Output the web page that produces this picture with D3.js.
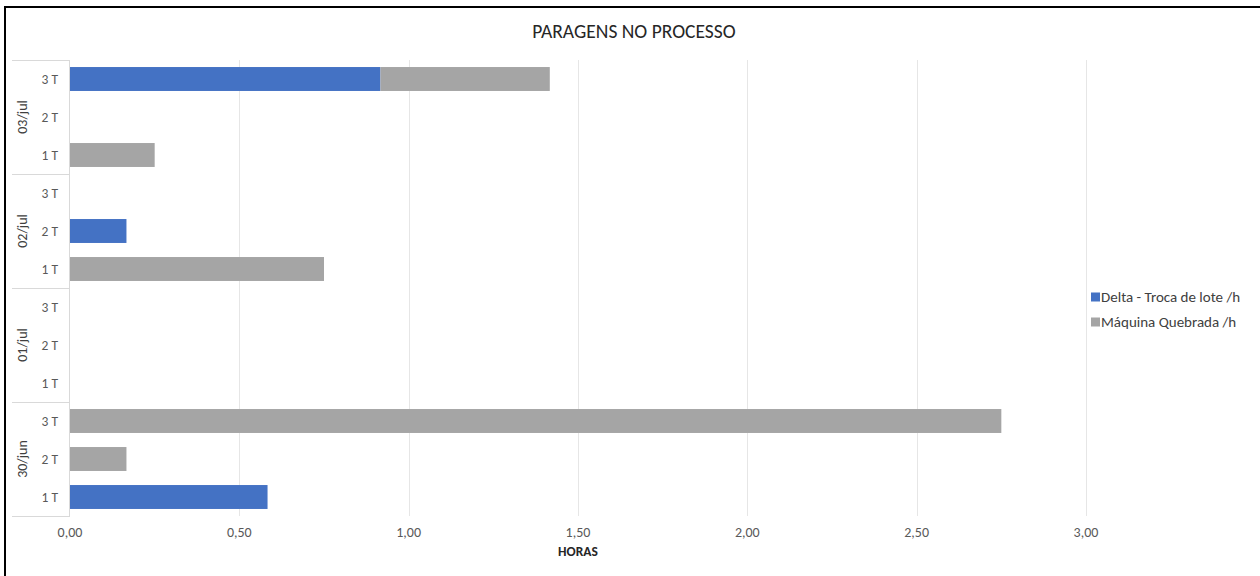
<!DOCTYPE html>
<html><head><meta charset="utf-8">
<script src="https://cdn.jsdelivr.net/npm/d3@7"></script>
<style>body{margin:0;background:#fff}svg{display:block}text{font-family:Calibri,Carlito,"Open Sans","Liberation Sans",sans-serif}</style>
</head><body>
<script>
const dates = ["03/jul","02/jul","01/jul","30/jun"];
const shifts = ["3 T","2 T","1 T"];
const seriesNames = ["Delta - Troca de lote /h","Máquina Quebrada /h"];
// values per row, top to bottom (date, shift)
const deltaValues  = [0.9167,0,0, 0,0.1667,0, 0,0,0, 0,0,0.5833];
const quebradaValues = [0.5,0,0.25, 0,0,0.75, 0,0,0, 2.75,0.1667,0];
const xTicks = [0,0.5,1,1.5,2,2.5,3];
const colors = ["#4472C4","#A5A5A5"];

(function(){
const W=1260,H=576;
const svg=d3.select("body").append("svg").attr("width",W).attr("height",H);
svg.append("rect").attr("width",W).attr("height",H).attr("fill","#fff");
// border (left/top visible)
svg.append("line").attr("x1",5).attr("x2",5).attr("y1",7).attr("y2",H).attr("stroke","#000").attr("stroke-width",2);
svg.append("line").attr("x1",4).attr("x2",W).attr("y1",7).attr("y2",7).attr("stroke","#000").attr("stroke-width",2);

const pL=70,pR=1086,pT=60,pB=516;
const rows=[];
dates.forEach(d=>shifts.forEach(s=>rows.push(d+"|"+s)));
const data=rows.map((r,i)=>({key:r,date:r.split("|")[0],shift:r.split("|")[1],v:[deltaValues[i],quebradaValues[i]]}));

const x=d3.scaleLinear().domain([0,3]).range([pL,pR]);
const y=d3.scaleBand().domain(rows).range([pT,pB]).paddingInner(0.37).paddingOuter(0.185);

// gridlines
svg.append("g").selectAll("line").data(xTicks.slice(1)).join("line")
 .attr("x1",d=>Math.round(x(d))+0.5).attr("x2",d=>Math.round(x(d))+0.5)
 .attr("y1",pT).attr("y2",pB).attr("stroke","#e6e6e6").attr("stroke-width",1);

// bars
const stack=d3.stack().keys([0,1]).value((d,k)=>d.v[k])(data);
stack.forEach((layer,k)=>{
  svg.append("g").selectAll("rect").data(layer).join("rect")
   .attr("x",d=>x(d[0])).attr("width",d=>x(d[1])-x(d[0]))
   .attr("y",d=>y(d.data.key)).attr("height",y.bandwidth())
   .attr("fill",colors[k]);
});

// y axis line and group separators
const ax="#d9d9d9";
svg.append("line").attr("x1",pL-0.5).attr("x2",pL-0.5).attr("y1",pT).attr("y2",pB).attr("stroke",ax);
for(let g=0;g<=dates.length;g++){
  const yy=Math.round(pT+g*3*(pB-pT)/12)+0.5;
  svg.append("line").attr("x1",12).attr("x2",pL).attr("y1",yy).attr("y2",yy).attr("stroke",ax);
}
// shift labels
svg.append("g").selectAll("text").data(data).join("text")
 .attr("x",58).attr("y",d=>y(d.key)+y.bandwidth()/2).attr("dy","0.35em")
 .attr("text-anchor","end").attr("font-size",13.5).attr("fill","#595959").text(d=>d.shift);
// date labels rotated
svg.append("g").selectAll("text").data(dates).join("text")
 .attr("transform",(d,i)=>{const cy=pT+(i*3+1.5)*(pB-pT)/12;return `translate(22,${cy}) rotate(-90)`;})
 .attr("dy","0.35em").attr("text-anchor","middle").attr("font-size",14).attr("fill","#404040").text(d=>d);

// x tick labels
const fmt=d=>d3.format(".2f")(d).replace(".",",");
svg.append("g").selectAll("text").data(xTicks).join("text")
 .attr("x",d=>x(d)).attr("y",537).attr("text-anchor","middle").attr("font-size",14).attr("fill","#595959").text(fmt);
svg.append("text").attr("x",x(1.5)).attr("y",556).attr("text-anchor","middle").attr("font-size",13.5).attr("font-weight","bold").attr("fill","#262626").text("HORAS");

// title
svg.append("text").attr("x",634).attr("y",38).attr("text-anchor","middle").attr("font-size",19.5).attr("fill","#262626").text("PARAGENS NO PROCESSO");

// legend
const lg=svg.append("g").selectAll("g").data(seriesNames).join("g").attr("transform",(d,i)=>`translate(1091,${297+i*25})`);
lg.append("rect").attr("x",0).attr("y",-4.5).attr("width",9).attr("height",9).attr("fill",(d,i)=>colors[i]);
lg.append("text").attr("x",10).attr("dy","0.35em").attr("font-size",15).attr("fill","#404040").text(d=>d);
})();
</script>
</body></html>
